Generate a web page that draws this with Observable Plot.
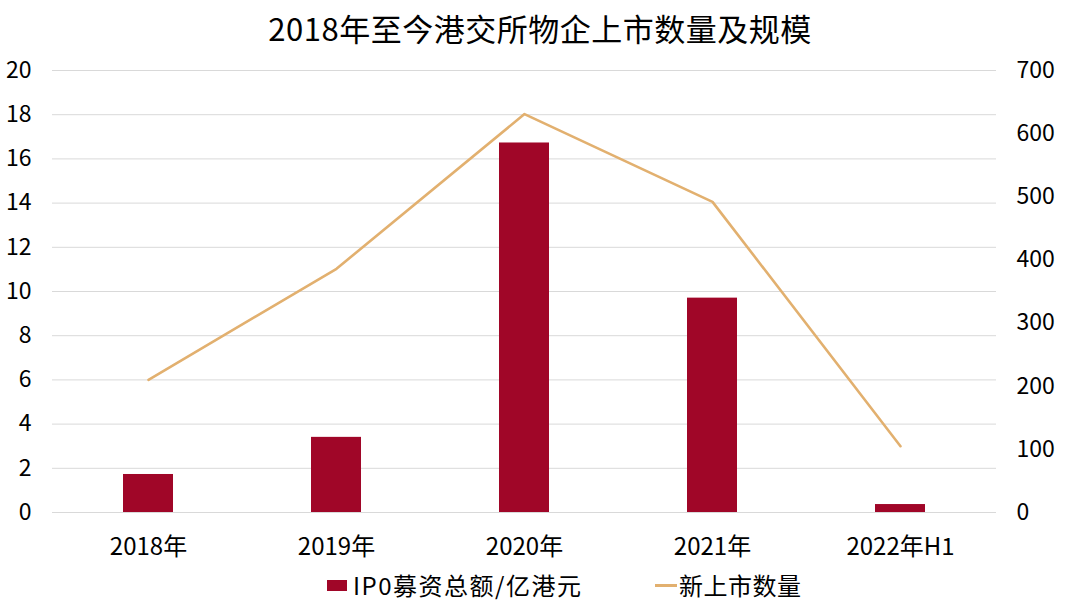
<!DOCTYPE html>
<html>
<head>
<meta charset="utf-8">
<script src="https://cdn.jsdelivr.net/npm/d3@7"></script>
<script src="https://cdn.jsdelivr.net/npm/@observablehq/plot@0.6"></script>
<style>
  html, body { margin: 0; padding: 0; background: #fff; }
  body { width: 1080px; height: 608px; position: relative; overflow: hidden; font-family: "Noto Sans CJK SC", "Noto Sans", sans-serif; color: #000; }
  #title { position: absolute; left: 0; top: 6px; width: 1080px; text-align: center; font-size: 31px; line-height: 44px; letter-spacing: 0.5px; z-index: 2; }
  #chart { position: absolute; left: 0; top: 40px; z-index: 1; }
  #legend { position: absolute; left: 0; top: 567px; width: 1080px; height: 36px; font-size: 24px; line-height: 36px; z-index: 2; }
  .item { position: absolute; top: 0; display: flex; align-items: center; height: 36px; }
  .sw-bar { width: 20px; height: 11px; background: #A00628; margin-right: 6px; }
  .sw-line { width: 22px; height: 3px; background: #E2B06F; margin-right: 2px; }
</style>
</head>
<body>
<div id="chart"></div>
<div id="title">2018年至今港交所物企上市数量及规模</div>
<div id="legend">
  <div class="item" style="left:327px"><span class="sw-bar"></span><span style="letter-spacing:1.5px">IP0募资总额/亿港元</span></div>
  <div class="item" style="left:655px"><span class="sw-line"></span><span style="letter-spacing:0.5px">新上市数量</span></div>
</div>
<script>
const categories = ["2018年", "2019年", "2020年", "2021年", "2022年H1"];
const ipoAmount = [1.72, 3.4, 16.72, 9.7, 0.36];
const newListings = [210, 386, 631, 492, 105];
const leftTicks = [0, 2, 4, 6, 8, 10, 12, 14, 16, 18, 20];
const rightTicks = [0, 100, 200, 300, 400, 500, 600, 700];

const leftMax = 20, rightMax = 700;
const toLeft = v => v * leftMax / rightMax;

const rows = categories.map((c, i) => ({cat: c, amount: ipoAmount[i], count: newListings[i], scaled: toLeft(newListings[i])}));

const chart = Plot.plot({
  width: 1080,
  height: 525,
  marginLeft: 52,
  marginRight: 84,
  marginTop: 30,
  marginBottom: 53,
  style: {fontFamily: '"Noto Sans CJK SC", "Noto Sans", sans-serif', fontSize: "23px", color: "#000", background: "transparent", overflow: "visible"},
  x: {domain: categories, paddingInner: 0.735, paddingOuter: 0.3675, label: null},
  y: {domain: [0, leftMax], label: null},
  marks: [
    Plot.gridY(leftTicks, {stroke: "#d9d9d9", strokeOpacity: 1, strokeWidth: 1}),
    Plot.barY(rows, {x: "cat", y: "amount", fill: "#A00628"}),
    Plot.lineY(rows, {x: "cat", y: "scaled", stroke: "#E2B06F", strokeWidth: 2.6}),
    Plot.axisX({tickSize: 0, tickPadding: 25, fontSize: 24, label: null}),
    Plot.axisY(leftTicks, {anchor: "left", tickSize: 0, tickPadding: 21, fontSize: 23, label: null}),
    Plot.axisY(rightTicks.map(toLeft), {anchor: "right", tickSize: 0, tickPadding: 20, fontSize: 23, label: null, textAnchor: "start", tickFormat: d => String(Math.round(d * rightMax / leftMax))})
  ]
});
document.getElementById("chart").appendChild(chart);
</script>
</body>
</html>
